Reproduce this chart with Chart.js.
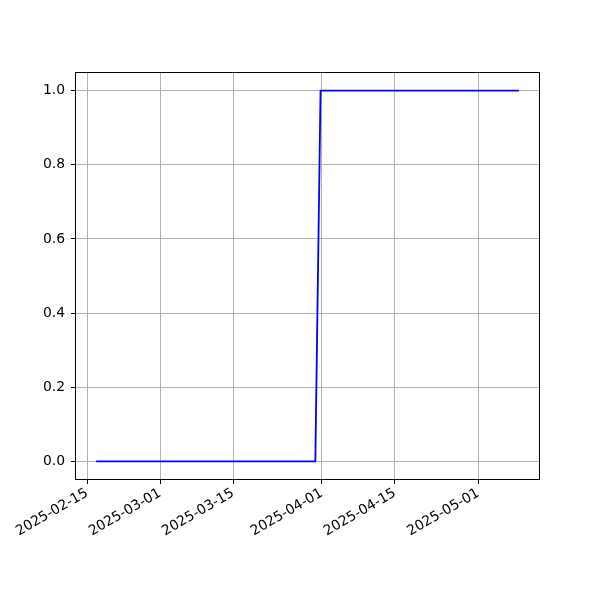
<!DOCTYPE html>
<html>
<head>
<meta charset="utf-8">
<script src="https://cdn.jsdelivr.net/npm/chart.js@4/dist/chart.umd.min.js"></script>
<style>
  html, body { margin: 0; padding: 0; background: #ffffff; }
  #c { display: block; }
</style>
</head>
<body>
<canvas id="c" width="600" height="600"></canvas>
<script>
// ---- data ----
const dates = ['2025-02-16T18:00:00Z', '2025-03-30T18:00:00Z', '2025-03-31T18:00:00Z', '2025-05-08T18:00:00Z'];
const values = [0, 0, 1, 1];
const xTickDates = ['2025-02-15', '2025-03-01', '2025-03-15', '2025-04-01', '2025-04-15', '2025-05-01'];
const yTicks = [0.0, 0.2, 0.4, 0.6, 0.8, 1.0];

const toMs = s => Date.parse(s.length === 10 ? s + 'T00:00:00Z' : s);
const points = dates.map((d, i) => ({ x: toMs(d), y: values[i] }));
const xs = points.map(p => p.x);
const xMinData = Math.min(...xs), xMaxData = Math.max(...xs);
const xMargin = 0.05 * (xMaxData - xMinData);

const FONT = { family: '"DejaVu Sans", sans-serif', size: 13.9 };

const framePlugin = {
  id: 'frame',
  afterDraw(chart) {
    const { ctx, chartArea: a } = chart;
    ctx.save();
    ctx.strokeStyle = '#000000';
    ctx.lineWidth = 1;
    ctx.strokeRect(Math.round(a.left) + 0.5, Math.round(a.top) + 0.5,
                   Math.round(a.right - a.left) - 1, Math.round(a.bottom - a.top) - 1);
    ctx.restore();
  }
};

new Chart(document.getElementById('c'), {
  type: 'line',
  data: {
    datasets: [{
      data: points,
      borderColor: '#0000ff',
      borderWidth: 1.8,
      pointRadius: 0,
      tension: 0,
      fill: false
    }]
  },
  options: {
    responsive: false,
    animation: false,
    layout: { padding: { left: 0, top: 72, right: 60, bottom: 0 } },
    plugins: { legend: { display: false }, tooltip: { enabled: false } },
    scales: {
      x: {
        type: 'linear',
        min: xMinData - xMargin,
        max: xMaxData + xMargin,
        afterBuildTicks: s => { s.ticks = xTickDates.map(d => ({ value: toMs(d) })); },
        afterFit: s => { s.height = 120; },
        grid: { color: '#b0b0b0', lineWidth: 1, drawTicks: true, tickLength: 4, tickColor: '#000000' },
        border: { display: false },
        ticks: {
          autoSkip: false,
          maxRotation: 30,
          minRotation: 30,
          padding: 1,
          color: '#000000',
          font: FONT,
          callback: v => new Date(v).toISOString().slice(0, 10)
        }
      },
      y: {
        type: 'linear',
        min: -0.05,
        max: 1.05,
        afterBuildTicks: s => { s.ticks = yTicks.map(v => ({ value: v })); },
        afterFit: s => { s.width = 75; },
        grid: { color: '#b0b0b0', lineWidth: 1, drawTicks: true, tickLength: 4, tickColor: '#000000' },
        border: { display: false },
        ticks: {
          padding: 6,
          color: '#000000',
          font: FONT,
          callback: v => Number(v).toFixed(1)
        }
      }
    }
  },
  plugins: [framePlugin]
});
</script>
</body>
</html>
